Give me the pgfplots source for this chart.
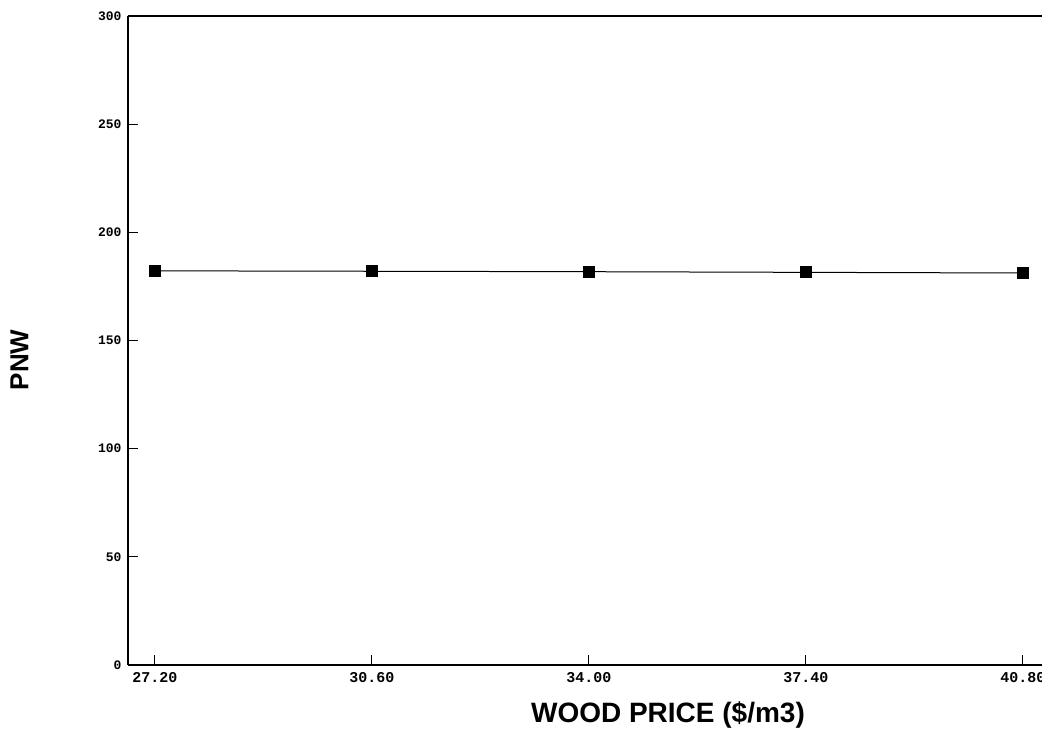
\documentclass[border=0pt]{standalone}
\usepackage{pgfplots}
\pgfplotsset{compat=1.18}
\usepackage{fontspec}
\setmainfont{Liberation Sans}
\newfontfamily\tickfont{Liberation Mono}
\begin{document}
\begin{tikzpicture}[x=1pt,y=1pt]
\path[use as bounding box] (-128pt,-65pt) rectangle (914pt,665pt);
\begin{axis}[
  at={(0pt,0pt)}, anchor=south west,
  scale only axis, width=914pt, height=649pt,
  xmin=26.777, xmax=41.10, ymin=0, ymax=300,
  axis lines=left, axis line style={line width=2.8pt, -},
  xtick={27.2,30.6,34.0,37.4,40.8},
  xticklabels={27.20,30.60,34.00,37.40,40.80},
  ytick={0,50,100,150,200,250,300},
  tick align=inside, tick style={black, line width=1pt},
  major tick length=10pt,
  xticklabel style={font=\tickfont\bfseries\fontsize{15}{15}\selectfont, yshift=-4pt},
  yticklabel style={font=\tickfont\bfseries\fontsize{13}{13}\selectfont, xshift=-3pt},
  /pgf/number format/assume math mode=true,
  xlabel={\textbf{WOOD PRICE (\$/m3)}},
  ylabel={\textbf{PNW}},
  xlabel style={font=\fontsize{28}{28}\selectfont, at={(rel axis cs:0.5,0)}, anchor=base, xshift=83pt, yshift=-58pt},
  ylabel style={font=\fontsize{26}{26}\selectfont, at={(rel axis cs:-0.105,0.47)}, anchor=south},
  clip=false,
]
\addplot[black, line width=1pt, mark=square*, mark size=5.5pt, mark options={solid}]
  coordinates {(27.2,182.2) (30.6,182.0) (34.0,181.8) (37.4,181.5) (40.8,181.2)};
\draw[line width=2.8pt] (rel axis cs:0,1) -- (rel axis cs:1.05,1);
\end{axis}
\end{tikzpicture}
\end{document}
